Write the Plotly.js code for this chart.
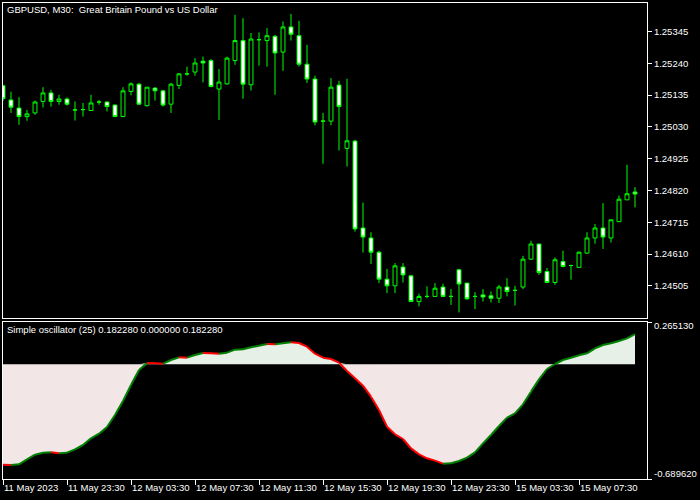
<!DOCTYPE html>
<html><head><meta charset="utf-8">
<script src="https://cdn.plot.ly/plotly-3.0.1.min.js"></script>
<style>html,body{margin:0;padding:0;background:#000;}#chart{width:700px;height:500px;}</style>
</head><body><div id="chart"></div>
<script>
const symbolTitle = "GBPUSD, M30:\u00a0 Great Britain Pound vs US Dollar";
const oscName = "Simple oscillator (25)";

const openP = [1.25166,1.25119,1.25092,1.25064,1.25076,1.25114,1.25142,1.25114,1.25122,1.25086,
1.25087,1.25084,1.25112,1.25112,1.25102,1.25064,1.25147,1.25171,1.25100,1.25158,
1.25149,1.25105,1.25167,1.25205,1.25211,1.25247,1.25249,1.25155,1.25172,1.25249,
1.25315,1.25169,1.25318,1.25315,1.25329,1.25277,1.25360,1.25331,1.25237,1.25188,
1.25049,1.25049,1.25168,1.24959,1.24983,1.24696,1.24663,1.24616,1.24527,1.24505,
1.24567,1.24538,1.24453,1.24470,1.24470,1.24501,1.24470,1.24558,1.24514,1.24470,
1.24475,1.24472,1.24464,1.24501,1.24490,1.24501,1.24593,1.24643,1.24552,1.24516,
1.24585,1.24572,1.24566,1.24613,1.24663,1.24696,1.24663,1.24717,1.24789,1.24815];
const highP = [1.25169,1.25146,1.25128,1.25086,1.25117,1.25161,1.25152,1.25136,1.25127,1.25114,
1.25109,1.25136,1.25119,1.25114,1.25104,1.25161,1.25177,1.25175,1.25161,1.25161,
1.25152,1.25175,1.25208,1.25229,1.25257,1.25262,1.25254,1.25221,1.25262,1.25400,
1.25389,1.25340,1.25342,1.25356,1.25334,1.25378,1.25403,1.25380,1.25301,1.25199,
1.25076,1.25191,1.25182,1.25189,1.24987,1.24780,1.24682,1.24621,1.24561,1.24580,
1.24580,1.24541,1.24479,1.24503,1.24514,1.24512,1.24494,1.24561,1.24514,1.24484,
1.24494,1.24486,1.24508,1.24530,1.24505,1.24604,1.24654,1.24644,1.24564,1.24599,
1.24621,1.24575,1.24618,1.24682,1.24709,1.24778,1.24723,1.24803,1.24905,1.24831];
const lowP = [1.25116,1.25076,1.25037,1.25050,1.25070,1.25094,1.25097,1.25103,1.25100,1.25051,
1.25064,1.25083,1.25103,1.25081,1.25062,1.25062,1.25134,1.25104,1.25097,1.25117,
1.25097,1.25076,1.25155,1.25199,1.25199,1.25177,1.25161,1.25053,1.25169,1.25235,
1.25123,1.25150,1.25232,1.25229,1.25136,1.25215,1.25315,1.25229,1.25175,1.25035,
1.24908,1.25035,1.24952,1.24899,1.24684,1.24615,1.24577,1.24514,1.24481,1.24481,
1.24516,1.24453,1.24437,1.24464,1.24470,1.24468,1.24442,1.24417,1.24459,1.24428,
1.24453,1.24450,1.24448,1.24470,1.24440,1.24494,1.24591,1.24541,1.24515,1.24508,
1.24566,1.24525,1.24566,1.24611,1.24644,1.24627,1.24648,1.24717,1.24789,1.24764];
const closeP = [1.25123,1.25095,1.25064,1.25073,1.25112,1.25142,1.25114,1.25122,1.25105,1.25086,
1.25087,1.25109,1.25112,1.25097,1.25064,1.25149,1.25172,1.25105,1.25161,1.25149,
1.25102,1.25171,1.25205,1.25205,1.25241,1.25241,1.25163,1.25178,1.25257,1.25315,
1.25171,1.25320,1.25318,1.25331,1.25274,1.25360,1.25336,1.25237,1.25188,1.25046,
1.25049,1.25161,1.25097,1.24984,1.24693,1.24666,1.24616,1.24527,1.24505,1.24571,
1.24541,1.24453,1.24470,1.24470,1.24497,1.24470,1.24470,1.24511,1.24462,1.24470,
1.24468,1.24464,1.24501,1.24486,1.24490,1.24593,1.24643,1.24549,1.24516,1.24591,
1.24569,1.24572,1.24616,1.24663,1.24696,1.24666,1.24723,1.24791,1.24809,1.24808];

const oscValues = [-0.60627,-0.60829,-0.60426,-0.57405,-0.54585,-0.53376,-0.53175,-0.53779,-0.53376,-0.51362,
-0.48744,-0.44715,-0.41895,-0.37867,-0.30616,-0.22156,-0.12488,-0.03424,0.00806,0.00604,
0.00403,0.02618,0.04230,0.04028,0.05640,0.06848,0.06647,0.06445,0.07050,0.08862,
0.09064,0.10272,0.11280,0.12287,0.12085,0.12689,0.13294,0.12891,0.10675,0.06445,
0.04028,0.03223,0.01007,-0.04028,-0.08460,-0.12891,-0.19538,-0.27595,-0.37666,-0.42298,
-0.45118,-0.50758,-0.54383,-0.56800,-0.58210,-0.60023,-0.59822,-0.58412,-0.56398,-0.53175,
-0.47737,-0.42701,-0.37263,-0.32227,-0.29609,-0.24170,-0.16516,-0.09064,-0.02820,0.00201,
0.02618,0.04028,0.05438,0.06647,0.09668,0.11682,0.12689,0.14099,0.15711,0.18228];

const priceTicks = [1.24505,1.24610,1.24715,1.24820,1.24925,1.25030,1.25135,1.25240,1.25345];
const xTickBars = [0,8,16,24,32,40,48,56,64,72];
const xTickLabels = ["11 May 2023","11 May 23:30","12 May 03:30","12 May 07:30","12 May 11:30",
  "12 May 15:30","12 May 19:30","12 May 23:30","15 May 03:30","15 May 07:30"];
const oscScaleLabels = [0.26513, -0.68962];

const priceRange = [1.243987, 1.254391];
const oscRange = [-0.6929, 0.2558];
const xRange = [0, 80.5];

const FONT = {family:'"Liberation Sans", Arial, sans-serif', size:9.5, color:'#ffffff'};
const idx = openP.map((_, i) => i);

const candles = {
  type:'candlestick', x:idx, open:openP, high:highP, low:lowP, close:closeP,
  xaxis:'x', yaxis:'y', hoverinfo:'skip',
  increasing:{line:{color:'#00ff00', width:1}, fillcolor:'#000000'},
  decreasing:{line:{color:'#00ff00', width:1}, fillcolor:'#ffffff'},
  whiskerwidth:0
};

const oscIdx = oscValues.map((_, i) => i);
const posFill = {
  type:'scatter', mode:'lines', x:oscIdx, y:oscValues.map(v => Math.max(v, 0)),
  fill:'tozeroy', fillcolor:'#e6f0e6', line:{width:0, color:'rgba(0,0,0,0)'},
  xaxis:'x2', yaxis:'y2', hoverinfo:'skip'
};
const negFill = {
  type:'scatter', mode:'lines', x:oscIdx, y:oscValues.map(v => Math.min(v, 0)),
  fill:'tozeroy', fillcolor:'#f2e6e6', line:{width:0, color:'rgba(0,0,0,0)'},
  xaxis:'x2', yaxis:'y2', hoverinfo:'skip'
};
const upX = [], upY = [], dnX = [], dnY = [];
for (let i = 1; i < oscValues.length; i++) {
  const rising = oscValues[i] > oscValues[i - 1];
  const X = rising ? upX : dnX, Y = rising ? upY : dnY;
  X.push(i - 1, i, null); Y.push(oscValues[i - 1], oscValues[i], null);
}
const upLine = {type:'scatter', mode:'lines', x:upX, y:upY, connectgaps:false,
  line:{color:'#008000', width:2}, xaxis:'x2', yaxis:'y2', hoverinfo:'skip'};
const dnLine = {type:'scatter', mode:'lines', x:dnX, y:dnY, connectgaps:false,
  line:{color:'#ff0000', width:2}, xaxis:'x2', yaxis:'y2', hoverinfo:'skip'};

const last = oscValues[oscValues.length - 1];
const oscText = oscName + ' ' + Math.max(last, 0).toFixed(6) + ' ' +
  Math.abs(Math.min(last, 0)).toFixed(6) + ' ' + last.toFixed(6);

const mainDomain = [0.33824, 1];
const oscDomain = [0, 0.32983];

const layout = {
  width:700, height:500,
  paper_bgcolor:'#000000', plot_bgcolor:'#000000',
  margin:{l:3, r:53, t:3, b:21, pad:0},
  showlegend:false,
  font:FONT,
  xaxis:{anchor:'y', range:xRange, showline:true, linecolor:'#ffffff', linewidth:1, mirror:true,
    ticks:'', showticklabels:false, showgrid:false, zeroline:false,
    rangeslider:{visible:false}, fixedrange:true},
  xaxis2:{anchor:'y2', range:xRange, showline:true, linecolor:'#ffffff', linewidth:1, mirror:true,
    ticks:'outside', ticklen:5, tickwidth:1, tickcolor:'#ffffff',
    tickvals:xTickBars, ticktext:xTickLabels, ticklabelposition:'outside right', tickangle:0,
    tickfont:FONT, showgrid:false, zeroline:false, fixedrange:true},
  yaxis:{domain:mainDomain, anchor:'x', side:'right', range:priceRange,
    tickvals:priceTicks, ticktext:priceTicks.map(v => v.toFixed(5)),
    ticks:'outside', ticklen:4, tickwidth:1, tickcolor:'#ffffff', tickfont:FONT,
    showline:true, linecolor:'#ffffff', linewidth:1, mirror:true,
    showgrid:false, zeroline:false, fixedrange:true},
  yaxis2:{domain:oscDomain, anchor:'x2', side:'right', range:oscRange,
    tickvals:oscRange, ticks:'outside', ticklen:4, tickwidth:1, tickcolor:'#ffffff',
    showticklabels:false,
    showline:true, linecolor:'#ffffff', linewidth:1, mirror:true,
    showgrid:false, zeroline:false, fixedrange:true},
  annotations:[
    {text:symbolTitle, xref:'paper', yref:'paper', x:0, y:1, xanchor:'left', yanchor:'middle',
     xshift:3, yshift:-6.5, showarrow:false, font:FONT, borderpad:0},
    {text:oscText, xref:'paper', yref:'paper', x:0, y:oscDomain[1], xanchor:'left', yanchor:'middle',
     xshift:3, yshift:-7.5, showarrow:false, font:FONT, borderpad:0},
    {text:oscScaleLabels[0].toFixed(6), xref:'paper', yref:'paper', x:1, y:oscDomain[1],
     xanchor:'left', yanchor:'middle', xshift:5.5, yshift:-3.5, showarrow:false, font:FONT, borderpad:0},
    {text:oscScaleLabels[1].toFixed(6), xref:'paper', yref:'paper', x:1, y:oscDomain[0],
     xanchor:'left', yanchor:'middle', xshift:5.5, yshift:5.5, showarrow:false, font:FONT, borderpad:0}
  ]
};

Plotly.newPlot('chart', [negFill, posFill, dnLine, upLine, candles], layout,
  {staticPlot:true, displayModeBar:false});
</script>
</body></html>
